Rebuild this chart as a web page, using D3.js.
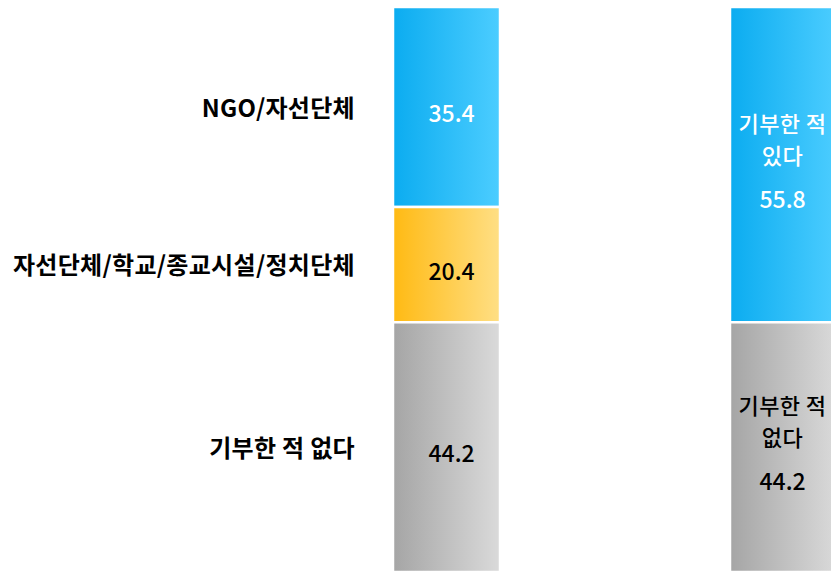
<!DOCTYPE html>
<meta charset="utf-8">
<style>
body { margin: 0; background: #fff; }
svg { display: block; }
.cat { font-family: "Noto Sans CJK KR", sans-serif; font-size: 24px; font-weight: bold; fill: #000; letter-spacing: 0.3px; }
.val { font-family: "Noto Sans CJK KR", sans-serif; font-size: 23px; font-weight: 500; }
.name { font-size: 22px; letter-spacing: 0.4px; }
</style>
<svg width="831" height="571"></svg>
<script src="https://cdn.jsdelivr.net/npm/d3@7"></script>
<script>

const categories = ["NGO/자선단체", "자선단체/학교/종교시설/정치단체", "기부한 적 없다"];
const leftValues = [35.4, 20.4, 44.2];
const rightLabels = [["기부한 적", "있다"], ["기부한 적", "없다"]];
const rightValues = [55.8, 44.2];
const bars = ["left", "right"];

const gradients = {
  blue: ["#0bacf0", "#4ccdff"],
  yellow: ["#ffba13", "#ffdf85"],
  gray: ["#a5a5a5", "#dadada"]
};
const leftColors = ["blue", "yellow", "gray"];
const rightColors = ["blue", "gray"];

const svg = d3.select("svg");

const defs = svg.append("defs");
Object.keys(gradients).forEach(function(k) {
  const g = defs.append("linearGradient").attr("id", "g-" + k)
    .attr("x1", "0%").attr("x2", "100%").attr("y1", "0%").attr("y2", "0%");
  g.append("stop").attr("offset", "0%").attr("stop-color", gradients[k][0]);
  g.append("stop").attr("offset", "100%").attr("stop-color", gradients[k][1]);
});

// two bars, left edge of each
const xPos = d3.scaleOrdinal().domain(bars).range([393, 730]);
const barW = 107;
const y = d3.scaleLinear().domain([0, 100]).range([7, 572]);

function stack(values) {
  let acc = 0;
  return values.map(function(v, i) {
    const d = { i: i, v: v, y0: acc, y1: acc + v };
    acc += v;
    return d;
  });
}

function drawBar(key, values, colors) {
  const data = stack(values);
  svg.append("g").selectAll("rect")
    .data(data)
    .enter().append("rect")
    .attr("x", xPos(key))
    .attr("width", barW)
    .attr("y", function(d) { return y(d.y0); })
    .attr("height", function(d) { return y(d.y1) - y(d.y0); })
    .attr("fill", function(d) { return "url(#g-" + colors[d.i] + ")"; })
    .attr("stroke", "#fff")
    .attr("stroke-width", 2.5);
  return data;
}

const leftData = drawBar("left", leftValues, leftColors);
const rightData = drawBar("right", rightValues, rightColors);

// category labels on the left
svg.append("g").selectAll("text")
  .data(leftData)
  .enter().append("text")
  .attr("class", "cat")
  .attr("x", 355)
  .attr("y", function(d) { return (y(d.y0) + y(d.y1)) / 2 - 1; })
  .attr("text-anchor", "end")
  .attr("dominant-baseline", "central")
  .text(function(d) { return categories[d.i]; });

// left value labels
svg.append("g").selectAll("text")
  .data(leftData)
  .enter().append("text")
  .attr("class", "val")
  .attr("x", xPos("left") + barW / 2 + 5)
  .attr("y", function(d) { return (y(d.y0) + y(d.y1)) / 2 + 5; })
  .attr("text-anchor", "middle")
  .attr("dominant-baseline", "central")
  .attr("fill", function(d) { return leftColors[d.i] === "blue" ? "#fff" : "#000"; })
  .text(function(d) { return d.v.toFixed(1); });

// right labels: two-line name + value, one text per line
const rg = svg.append("g").selectAll("g")
  .data(rightData)
  .enter().append("g")
  .attr("transform", function(d) {
    return "translate(" + (xPos("right") + barW / 2 - 1) + "," + ((y(d.y0) + y(d.y1)) / 2) + ")";
  });
rg.selectAll("text.name")
  .data(function(d) {
    return rightLabels[d.i].map(function(t, j) { return { t: t, j: j, c: rightColors[d.i] }; });
  })
  .enter().append("text")
  .attr("class", "val name")
  .attr("text-anchor", "middle")
  .attr("dominant-baseline", "central")
  .attr("y", function(t) { return -43 + t.j * 32; })
  .attr("fill", function(t) { return t.c === "blue" ? "#fff" : "#000"; })
  .text(function(t) { return t.t; });
rg.append("text")
  .attr("class", "val")
  .attr("text-anchor", "middle")
  .attr("dominant-baseline", "central")
  .attr("y", 33)
  .attr("fill", function(d) { return rightColors[d.i] === "blue" ? "#fff" : "#000"; })
  .text(function(d) { return d.v.toFixed(1); });
</script>
